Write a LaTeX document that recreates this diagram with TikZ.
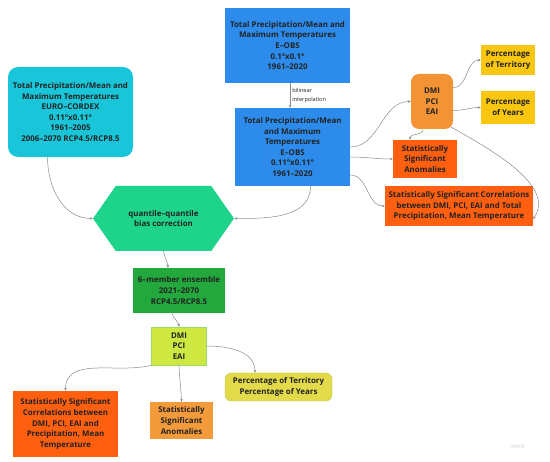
\documentclass[tikz,border=0pt]{standalone}
\usepackage{fontspec}
\setmainfont{Open Sans}
\usetikzlibrary{arrows.meta,positioning,shapes.symbols}
\definecolor{mrcyan}{HTML}{19C6D9}
\definecolor{mrblue}{HTML}{2D8CEB}
\definecolor{mrorange}{HTML}{F29335}
\definecolor{mryellow}{HTML}{FAC710}
\definecolor{mrred}{HTML}{FF5F0F}
\definecolor{mrmint}{HTML}{1ED38A}
\definecolor{mrgreen}{HTML}{22A83C}
\definecolor{mrlime}{HTML}{CEE741}
\definecolor{mrlimeedge}{HTML}{9DD96B}
\definecolor{mrlorange}{HTML}{F39A3A}
\definecolor{mrolive}{HTML}{E3DA4A}
\definecolor{mroliveedge}{HTML}{B7CC55}
\definecolor{mrtext}{HTML}{222222}
\definecolor{mrline}{HTML}{8A8A8A}

\begin{document}
\begin{tikzpicture}[x=1pt, y=-1pt,
  box/.style={align=center, inner sep=2pt, text=mrtext,
              font=\fontsize{7.9pt}{10.6pt}\selectfont\bfseries},
  rbox/.style={box, rounded corners=8pt},
  ar/.style={-{Stealth[length=3pt,width=2.6pt]}, mrline, line width=0.5pt},
  lbl/.style={font=\fontsize{5.6pt}{9pt}\selectfont, text=mrtext, align=left, inner sep=2pt},
]
\useasboundingbox (0,0) rectangle (550,462);

% sources
\node[rbox, fill=mrcyan, rounded corners=10pt, minimum width=125pt, minimum height=90pt] (cordex) at (70.5,112)
  {Total Precipitation/Mean and\\Maximum Temperatures\\EURO--CORDEX\\0.11°x0.11°\\1961--2005\\2006--2070 RCP4.5/RCP8.5};
\node[box, fill=mrblue, minimum width=125pt, minimum height=75pt] (eobsA) at (287.5,45.5)
  {Total Precipitation/Mean and\\Maximum Temperatures\\E--OBS\\0.1°x0.1°\\1961--2020};
\node[box, fill=mrblue, minimum width=115pt, minimum height=78pt] (eobsB) at (292.5,147)
  {Total Precipitation/Mean\\and Maximum\\Temperatures\\E--OBS\\0.11°x0.11°\\1961--2020};

% observed indices
\node[rbox, fill=mrorange, minimum width=42pt, minimum height=55pt] (dmiA) at (432,101.5) {DMI\\PCI\\EAI};
\node[box, fill=mryellow, minimum width=54pt, minimum height=30pt] (terr) at (508,60) {Percentage\\of Territory};
\node[box, fill=mryellow, minimum width=54pt, minimum height=33pt] (years) at (508,107.5) {Percentage\\of Years};
\node[box, fill=mrred, minimum width=64pt, minimum height=38pt] (anomA) at (425,159)
  {Statistically\\Significant\\Anomalies};
\node[box, fill=mrred, minimum width=148pt, minimum height=40pt] (corrA) at (459,206)
  {Statistically Significant Correlations\\between DMI, PCI, EAI and Total\\Precipitation, Mean Temperature};

% projections
\node[box, shape=signal, signal to=west and east, signal pointer angle=110, fill=mrmint,
      minimum width=141pt, minimum height=65pt] (hex) at (163.5,218.5) {quantile--quantile\\bias correction};
\node[box, fill=mrgreen, minimum width=92pt, minimum height=45pt] (ens) at (179,290.5)
  {6--member ensemble\\2021--2070\\RCP4.5/RCP8.5};
\node[box, fill=mrlime, draw=mrlimeedge, minimum width=55pt, minimum height=38pt] (dmiB) at (179,346) {DMI\\PCI\\EAI};
\node[box, fill=mrred, minimum width=105pt, minimum height=66pt] (corrB) at (65.5,424)
  {Statistically Significant\\Correlations between\\DMI, PCI, EAI and\\Precipitation, Mean\\Temperature};
\node[box, fill=mrlorange, minimum width=63pt, minimum height=37pt] (anomB) at (181.5,420.5)
  {Statistically\\Significant\\Anomalies};
\node[rbox, fill=mrolive, draw=mroliveedge, rounded corners=6pt, minimum width=107pt, minimum height=28pt] (pctB) at (278.5,387)
  {Percentage of Territory\\Percentage of Years};

\node[font=\fontsize{6pt}{7pt}\selectfont, text=gray!45] (miro) at (518,446) {miro};

% connectors
\draw[ar] ([xshift=2.5pt]eobsA.south) -- node[lbl, right] {bilinear\\interpolation} ([xshift=2.5pt]eobsA.south |- eobsB.north);
\draw[ar] ([xshift=-23pt]cordex.south) to[out=-90,in=180] (hex.west);
\draw[ar] ([xshift=18pt]eobsB.south) to[out=-90,in=0] (hex.east);
\draw[ar] (hex.south) to[out=-80,in=95] ([xshift=-11pt]ens.north);
\draw[ar] ([xshift=-7pt]ens.south) to[out=-80,in=95] (dmiB.north);

\draw[ar] (eobsB.east) to[out=0,in=180] (dmiA.west);
\draw[ar] ([yshift=-10pt]eobsB.east) to[out=0,in=180] (anomA.west);
\draw[ar] ([yshift=-28pt]eobsB.east) to[out=0,in=180] (corrA.west);
\draw[ar] ([yshift=14pt]dmiA.east) to[out=0,in=180] (terr.west);
\draw[ar] ([yshift=-9pt]dmiA.east) to[out=0,in=180] (years.west);
\draw[ar] ([xshift=-9pt]dmiA.south) to[out=-90,in=90] ([xshift=-15pt]anomA.north);
\draw[ar] ([xshift=-2pt,yshift=2pt]dmiA.south east) .. controls +(45,25) and +(22,-32) .. ([yshift=-13pt]corrA.east);

\draw[ar] (dmiB.south west) to[out=195,in=90] (corrB.north);
\draw[ar] (dmiB.south) to[out=-88,in=92] (anomB.north);
\draw[ar] (dmiB.east) to[out=0,in=90] ([xshift=-23.5pt]pctB.north);
\end{tikzpicture}
\end{document}
